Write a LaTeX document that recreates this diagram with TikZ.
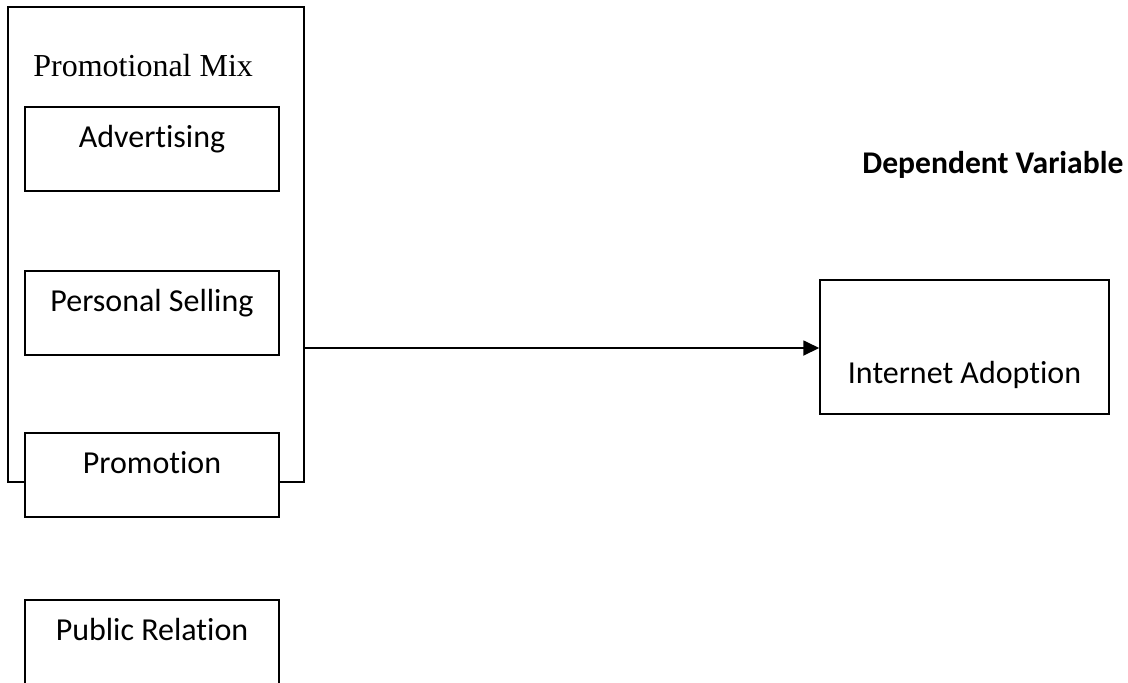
\documentclass[tikz,border=0pt]{standalone}
\usepackage{fontspec}
\newfontfamily\calfont[Ligatures=CommonOff]{Carlito}
\newfontfamily\timesfont{Liberation Serif}
\usetikzlibrary{arrows.meta}
\tikzset{
  varbox/.style={draw, line width=0.75pt, fill=white, inner sep=0pt, anchor=north,
    minimum width=127pt, text height=20.5pt, text depth=21.5pt,
    font=\calfont\fontsize{16}{19}\selectfont},
  varlabel/.style={anchor=base west, inner sep=0pt},
}
\begin{document}
\begin{tikzpicture}[x=0.5pt, y=-0.5pt]
\useasboundingbox (0,0) rectangle (1128,682);
\clip (0,0) rectangle (1128,682);
\node[draw, line width=0.75pt, inner sep=0pt, minimum width=148pt, minimum height=237.5pt] (mix) at (156,244.5) {};
\node[varlabel, font=\timesfont\fontsize{16}{19}\selectfont] (mixlabel) at (33,76) {Promotional Mix};
\node[varbox] (adv) at (152,106) {Advertising};
\node[varbox] (sell) at (152,270) {Personal Selling};
\node[varbox] (promo) at (152,432) {Promotion};
\node[varbox, text depth=26pt] (pr) at (152,599) {Public Relation};
\node[varlabel, font=\calfont\bfseries\fontsize{15.8}{19}\selectfont] (dep) at (862,173) {Dependent Variable};
\node[varbox, minimum width=144.5pt, text height=52pt, text depth=15pt] (net) at (964.5,279) {Internet Adoption};
\draw[line width=0.9pt, -{Triangle[length=8pt, width=7.5pt]}] (mix.east |- 0,348) -- (net.west |- 0,348);
\end{tikzpicture}
\end{document}
